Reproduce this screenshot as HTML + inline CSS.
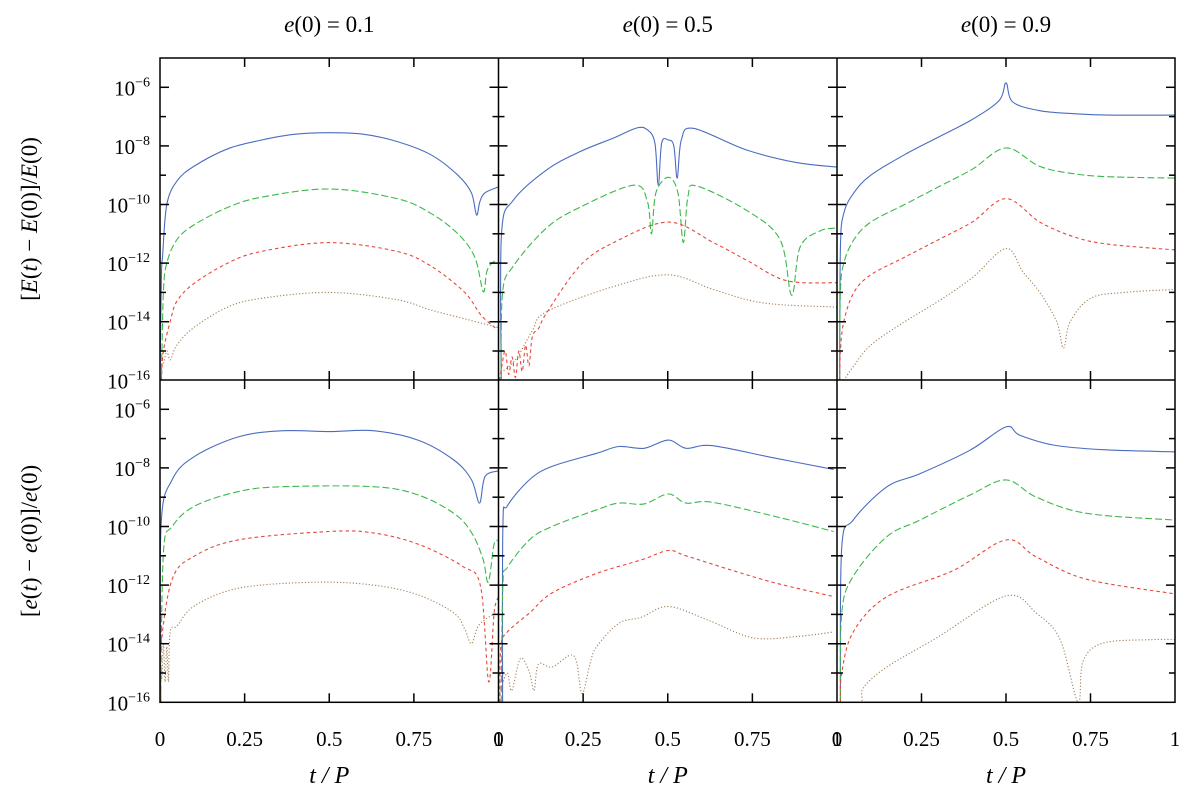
<!DOCTYPE html>
<html><head><meta charset="utf-8"><style>
body{margin:0;background:#fff}
svg{display:block;font-family:"Liberation Serif",serif}
</style></head><body>
<svg id="chart" width="1200" height="804" viewBox="0 0 1200 804" xmlns="http://www.w3.org/2000/svg"></svg>
<script>
// ---- data: log10 relative error vs t/P ----
const panelTitles = ["e(0) = 0.1", "e(0) = 0.5", "e(0) = 0.9"];
const yTickExps = [-6, -8, -10, -12, -14, -16];
const xTickLabels = ["0", "0.25", "0.5", "0.75"];
const xTickValues = [0, 0.25, 0.5, 0.75];
const seriesNames = ["order-1", "order-2", "order-3", "order-4"];

// Top row: energy error
const E1_blue = [[0,-16],[0.004,-12.5],[0.008,-11.7],[0.02,-10],[0.05,-9.2],[0.1,-8.7],[0.2,-8.1],[0.3,-7.8],[0.4,-7.6],[0.5,-7.55],[0.6,-7.6],[0.7,-7.85],[0.8,-8.3],[0.88,-9.0],[0.92,-9.6],[0.935,-10.36],[0.945,-9.9],[0.96,-9.6],[1,-9.4]];
const E1_green = [[0.004,-16],[0.01,-13],[0.02,-12],[0.05,-11.2],[0.1,-10.7],[0.2,-10.1],[0.3,-9.75],[0.5,-9.47],[0.7,-9.8],[0.8,-10.3],[0.88,-11],[0.93,-11.8],[0.955,-12.98],[0.965,-12.3],[0.98,-12],[1,-11.9]];
const E1_red = [[0.004,-16],[0.01,-15],[0.03,-14],[0.05,-13.3],[0.1,-12.7],[0.2,-12.0],[0.3,-11.6],[0.5,-11.3],[0.7,-11.6],[0.8,-12.1],[0.9,-13],[0.95,-13.8],[1,-14.3]];
const E1_brown = [[0,-15.2],[0.01,-15.4],[0.02,-15.0],[0.03,-15.3],[0.05,-14.8],[0.1,-14.2],[0.2,-13.5],[0.3,-13.2],[0.5,-13.0],[0.7,-13.25],[0.8,-13.6],[0.9,-13.9],[1,-14.2]];

const E2_blue = [[0.008,-16],[0.009,-11.0],[0.044,-9.85],[0.142,-8.82],[0.24,-8.2],[0.34,-7.73],[0.408,-7.39],[0.44,-7.45],[0.462,-7.9],[0.472,-9.34],[0.482,-7.9],[0.502,-7.8],[0.518,-8.0],[0.528,-9.1],[0.54,-7.8],[0.576,-7.4],[0.733,-8.14],[0.881,-8.57],[1,-8.72]];
const E2_green = [[0.008,-16],[0.012,-13.0],[0.044,-12.1],[0.142,-10.8],[0.24,-10.1],[0.399,-9.34],[0.44,-9.9],[0.452,-11.0],[0.465,-9.6],[0.502,-9.07],[0.53,-9.6],[0.546,-11.3],[0.56,-9.7],[0.586,-9.37],[0.733,-10.2],[0.832,-11.2],[0.866,-13.1],[0.891,-11.45],[0.95,-10.9],[1,-10.8]];
const E2_red = [[0.003,-16],[0.01,-15.5],[0.02,-15.0],[0.03,-15.8],[0.04,-15.2],[0.05,-15.9],[0.06,-15.0],[0.07,-15.7],[0.08,-14.8],[0.09,-15.5],[0.1,-14.5],[0.12,-14.2],[0.142,-13.7],[0.24,-12.1],[0.34,-11.3],[0.502,-10.6],[0.635,-11.3],[0.733,-11.9],[0.851,-12.6],[1,-12.67]];
const E2_brown = [[0,-15.8],[0.05,-15.3],[0.1,-14.3],[0.142,-13.66],[0.34,-12.8],[0.502,-12.4],[0.635,-12.9],[0.782,-13.36],[1,-13.5]];

const E3_blue = [[0.008,-16],[0.01,-11.5],[0.02,-10.3],[0.05,-9.6],[0.1,-9.0],[0.2,-8.3],[0.3,-7.7],[0.4,-7.1],[0.48,-6.45],[0.5,-5.85],[0.52,-6.5],[0.6,-6.8],[0.7,-6.9],[0.8,-6.95],[1,-6.95]];
const E3_green = [[0.008,-16],[0.01,-13],[0.02,-12],[0.05,-11.2],[0.1,-10.6],[0.2,-10],[0.3,-9.4],[0.4,-8.8],[0.5,-8.07],[0.6,-8.7],[0.7,-8.95],[0.8,-9.05],[1,-9.1]];
const E3_red = [[0.008,-16],[0.01,-15],[0.02,-14],[0.05,-13],[0.1,-12.4],[0.2,-11.8],[0.3,-11.2],[0.4,-10.6],[0.5,-9.8],[0.6,-10.6],[0.7,-11.1],[0.8,-11.35],[1,-11.55]];
const E3_brown = [[0.02,-16],[0.05,-15.5],[0.1,-14.8],[0.2,-14],[0.3,-13.3],[0.4,-12.5],[0.5,-11.5],[0.55,-12.3],[0.6,-13.0],[0.65,-14.0],[0.67,-14.9],[0.69,-14.0],[0.75,-13.2],[0.85,-13.0],[1,-12.9]];

// Bottom row: eccentricity error
const e1_blue = [[0.002,-16],[0.003,-10],[0.036,-8.4],[0.103,-7.6],[0.235,-6.93],[0.366,-6.73],[0.5,-6.76],[0.63,-6.73],[0.762,-7.05],[0.868,-7.73],[0.92,-8.4],[0.944,-9.2],[0.96,-8.3],[1,-8.1]];
const e1_green = [[0.002,-16],[0.01,-10.9],[0.036,-10],[0.103,-9.3],[0.235,-8.8],[0.366,-8.64],[0.63,-8.64],[0.762,-8.92],[0.868,-9.55],[0.92,-10.2],[0.954,-11.1],[0.97,-11.9],[0.987,-10.6],[1,-10.5]];
const e1_red = [[0.002,-16],[0.003,-14.1],[0.036,-11.8],[0.103,-11],[0.235,-10.45],[0.5,-10.17],[0.63,-10.22],[0.762,-10.6],[0.894,-11.36],[0.947,-12.05],[0.971,-15.3],[0.987,-12.95],[1,-12.4]];
const e1_brown = [[0,-13.9],[0.005,-15.2],[0.01,-14.0],[0.015,-15.3],[0.02,-14.1],[0.025,-15.3],[0.03,-13.6],[0.05,-13.4],[0.103,-12.7],[0.235,-12.1],[0.459,-11.9],[0.63,-12.0],[0.762,-12.33],[0.868,-12.95],[0.9,-13.5],[0.92,-14],[0.94,-13.4],[0.974,-13.07],[1,-12.95]];

const e2_blue = [[0.012,-16],[0.013,-10],[0.026,-9.3],[0.092,-8.4],[0.158,-7.95],[0.29,-7.5],[0.356,-7.27],[0.43,-7.33],[0.502,-7.05],[0.554,-7.33],[0.63,-7.24],[0.818,-7.67],[0.99,-8.05]];
const e2_green = [[0.008,-16],[0.013,-12],[0.026,-11.4],[0.092,-10.45],[0.158,-10],[0.29,-9.43],[0.356,-9.2],[0.43,-9.23],[0.502,-8.89],[0.554,-9.2],[0.63,-9.17],[0.818,-9.66],[0.99,-10.17]];
const e2_red = [[0.004,-16],[0.007,-14.1],[0.026,-13.6],[0.092,-12.95],[0.158,-12.27],[0.29,-11.6],[0.422,-11.14],[0.502,-10.82],[0.554,-11.0],[0.686,-11.48],[0.818,-11.93],[0.99,-12.39]];
const e2_brown = [[0.006,-15.6],[0.026,-15.0],[0.039,-15.6],[0.065,-14.5],[0.092,-15.0],[0.105,-15.6],[0.118,-14.7],[0.158,-14.8],[0.21,-14.4],[0.23,-14.6],[0.247,-15.7],[0.27,-14.7],[0.29,-14.1],[0.356,-13.3],[0.422,-13.1],[0.502,-12.73],[0.62,-13.2],[0.752,-13.8],[0.884,-13.75],[0.99,-13.6]];

const e3_blue = [[0.01,-16],[0.014,-10.73],[0.048,-9.78],[0.147,-8.65],[0.245,-8.2],[0.393,-7.4],[0.5,-6.6],[0.54,-6.88],[0.64,-7.22],[0.787,-7.38],[1,-7.45]];
const e3_green = [[0.01,-16],[0.014,-12.96],[0.048,-11.7],[0.147,-10.35],[0.245,-9.78],[0.393,-8.93],[0.5,-8.41],[0.59,-9.0],[0.738,-9.55],[1,-9.78]];
const e3_red = [[0.01,-16],[0.014,-15],[0.048,-13.6],[0.147,-12.4],[0.344,-11.5],[0.5,-10.46],[0.59,-11.04],[0.738,-11.8],[1,-12.3]];
const e3_brown = [[0.01,-16],[0.07,-16],[0.078,-15.5],[0.147,-14.8],[0.295,-13.8],[0.5,-12.37],[0.59,-12.96],[0.66,-13.86],[0.713,-16],[0.728,-14.6],[0.787,-13.98],[0.935,-13.86],[1,-13.86]];

const panelSeries = [
  [E1_blue,E1_green,E1_red,E1_brown],[E2_blue,E2_green,E2_red,E2_brown],[E3_blue,E3_green,E3_red,E3_brown],
  [e1_blue,e1_green,e1_red,e1_brown],[e2_blue,e2_green,e2_red,e2_brown],[e3_blue,e3_green,e3_red,e3_brown]
];

// ---- layout ----
const NS = "http://www.w3.org/2000/svg";
const svg = document.getElementById('chart');
const colX = [160, 498.5, 837, 1175];
const rowTop = [58, 380];
const decade = 29.3;
const colors = ["#4a6cc0", "#3cb84a", "#e8463a", "#a0805a"];
const dashes = ["", "7,3", "3.5,3", "1.2,2"];

function mk(tag, attrs, parent) {
  const el = document.createElementNS(NS, tag);
  for (const k in attrs) el.setAttribute(k, attrs[k]);
  (parent || svg).appendChild(el);
  return el;
}
function xScale(col, t) { return colX[col] + t * (colX[col + 1] - colX[col]); }
function yScale(row, lg) { return rowTop[row] + (-5 - lg) * decade; }
function smoothPath(pts) {
  let d = 'M' + pts[0][0].toFixed(1) + ',' + pts[0][1].toFixed(1);
  for (let i = 0; i < pts.length - 1; i++) {
    const p0 = pts[Math.max(0, i - 1)], p1 = pts[i], p2 = pts[i + 1], p3 = pts[Math.min(pts.length - 1, i + 2)];
    const k = 1 / 6;
    const c1x = p1[0] + (p2[0] - p0[0]) * k, c1y = p1[1] + (p2[1] - p0[1]) * k;
    const c2x = p2[0] - (p3[0] - p1[0]) * k, c2y = p2[1] - (p3[1] - p1[1]) * k;
    d += 'C' + c1x.toFixed(1) + ',' + c1y.toFixed(1) + ' ' + c2x.toFixed(1) + ',' + c2y.toFixed(1) + ' ' + p2[0].toFixed(1) + ',' + p2[1].toFixed(1);
  }
  return d;
}

const defs = mk('defs', {});
// curves
for (let p = 0; p < 6; p++) {
  const row = p < 3 ? 0 : 1, col = p % 3;
  const cp = mk('clipPath', {id: 'clip' + p}, defs);
  mk('rect', {x: colX[col], y: rowTop[row], width: colX[col + 1] - colX[col], height: 11 * decade}, cp);
  const g = mk('g', {'clip-path': 'url(#clip' + p + ')'});
  
  
  panelSeries[p].forEach((s, i) => {
    const pts = s.map(pt => [xScale(col, pt[0]), yScale(row, Math.max(-16, pt[1]))]);
    const path = mk('path', {d: smoothPath(pts), fill: 'none', stroke: colors[i], 'stroke-width': 1.1, 'stroke-dasharray': dashes[i]}, g);
    
    
  });
}

// frames & ticks
const axes = mk('g', {stroke: '#000', 'stroke-width': 1.5, fill: 'none'});


const yBot = rowTop[1] + 11 * decade;
mk('rect', {x: colX[0], y: rowTop[0], width: colX[3] - colX[0], height: yBot - rowTop[0]}, axes);
mk('line', {x1: colX[0], x2: colX[3], y1: rowTop[1], y2: rowTop[1]}, axes);
mk('line', {x1: colX[1], x2: colX[1], y1: rowTop[0], y2: yBot}, axes);
mk('line', {x1: colX[2], x2: colX[2], y1: rowTop[0], y2: yBot}, axes);
for (let row = 0; row < 2; row++) {
  for (let e = -6; e >= -15; e--) {
    const y = yScale(row, e);
    const len = (e % 2 === 0) ? 9 : 6;
    colX.forEach((x, i) => {
      const x1 = i === 0 ? x : x - len, x2 = i === 3 ? x : x + len;
      mk('line', {x1: x1, x2: x2, y1: y, y2: y}, axes);
    });
  }
}
for (let col = 0; col < 3; col++) {
  xTickValues.slice(1).forEach(t => {
    const x = xScale(col, t);
    mk('line', {x1: x, x2: x, y1: rowTop[0], y2: rowTop[0] + 9}, axes);
    mk('line', {x1: x, x2: x, y1: rowTop[1] - 9, y2: rowTop[1] + 9}, axes);
    mk('line', {x1: x, x2: x, y1: yBot - 9, y2: yBot}, axes);
  });
}

// y tick labels
for (let row = 0; row < 2; row++) {
  yTickExps.forEach(e => {
    const y = yScale(row, e);
    const t = mk('text', {x: 150, y: y + 8, 'text-anchor': 'end', 'font-size': 21});
    
    
    const a = document.createElementNS(NS, 'tspan'); a.textContent = '10'; t.appendChild(a);
    const b = document.createElementNS(NS, 'tspan');
    b.setAttribute('dy', -9); b.setAttribute('font-size', 14); b.textContent = '\u2212' + (-e);
    t.appendChild(b);
  });
}
// x tick labels
for (let col = 0; col < 3; col++) {
  xTickLabels.forEach((lab, i) => {
    const t = mk('text', {x: xScale(col, xTickValues[i]), y: 746, 'text-anchor': 'middle', 'font-size': 21});
    
    
    t.textContent = lab;
  });
  if (col > 0) {
    const t1 = mk('text', {x: colX[col], y: 746, 'text-anchor': 'middle', 'font-size': 21});
    
    
    t1.textContent = '1';
  }
  const xt = mk('text', {x: (colX[col] + colX[col + 1]) / 2, y: 783, 'text-anchor': 'middle', 'font-size': 24, 'font-style': 'italic'});
  
  
  xt.textContent = 't / P';
  const tt = mk('text', {x: (colX[col] + colX[col + 1]) / 2, y: 32, 'text-anchor': 'middle', 'font-size': 23});
  
  
  const ti = document.createElementNS(NS, 'tspan'); ti.setAttribute('font-style', 'italic'); ti.textContent = 'e'; tt.appendChild(ti);
  const tr = document.createElementNS(NS, 'tspan'); tr.textContent = panelTitles[col].slice(1); tt.appendChild(tr);
}
const lastOne = mk('text', {x: colX[3], y: 746, 'text-anchor': 'middle', 'font-size': 21});


lastOne.textContent = '1';

// y axis titles
const yTitles = [["[", "E", "(", "t", ") \u2212 ", "E", "(0)]/", "E", "(0)"], ["[", "e", "(", "t", ") \u2212 ", "e", "(0)]/", "e", "(0)"]];
yTitles.forEach((parts, row) => {
  const cy = row === 0 ? 219 : 541;
  const t = mk('text', {x: 0, y: 0, 'text-anchor': 'middle', 'font-size': 23, transform: 'translate(37,' + cy + ') rotate(-90)'});
  
  
  parts.forEach((s, i) => {
    const sp = document.createElementNS(NS, 'tspan');
    if (i % 2 === 1 && s.length === 1) sp.setAttribute('font-style', 'italic');
    sp.textContent = s; t.appendChild(sp);
  });
});
</script>
</body></html>
